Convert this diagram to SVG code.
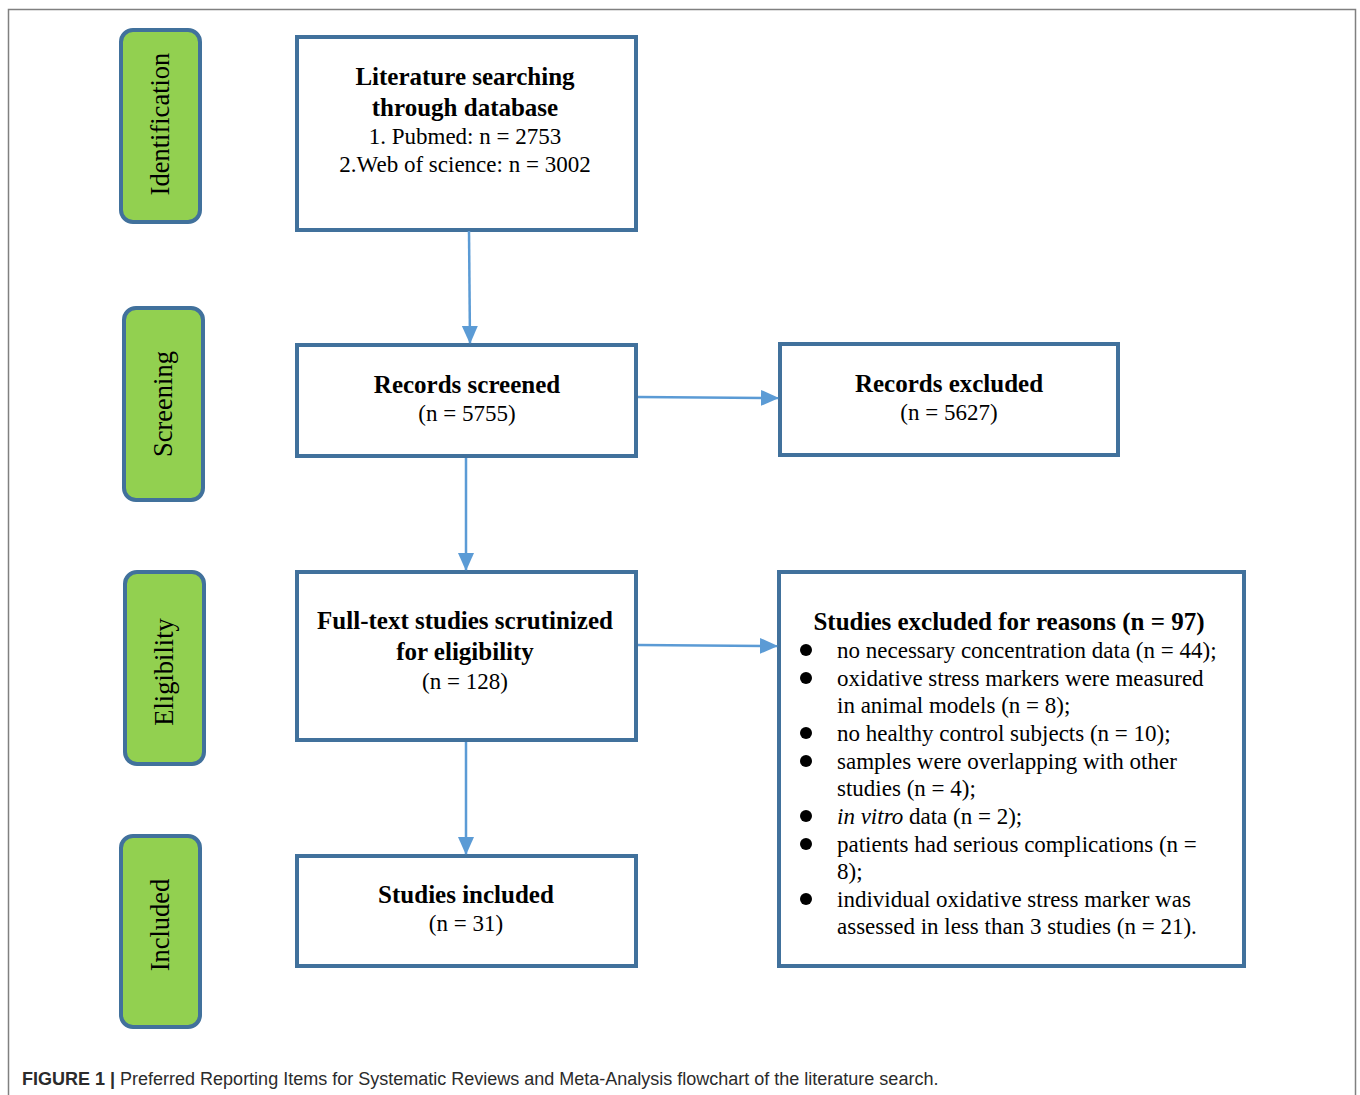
<svg xmlns="http://www.w3.org/2000/svg" width="1360" height="1095" viewBox="0 0 1360 1095">
<style>
.stage{fill:#92D050;stroke:#41719C;stroke-width:4}
.box{fill:#fff;stroke:#41719C;stroke-width:4}
.t{font-family:"Liberation Serif","Times New Roman",serif;fill:#000}
.b{font-size:25px;font-weight:bold}
.s{font-size:23px}
.lab{font-size:26.5px}
.conn{stroke:#5B9BD5;stroke-width:2.5;fill:none}
.cap{font-family:"Liberation Sans",Arial,sans-serif;font-size:18px;fill:#2b2b2b}
</style>
<defs>
<marker id="ah2" viewBox="0 0 18 18" refX="17" refY="9" markerWidth="18" markerHeight="18" orient="auto" markerUnits="userSpaceOnUse">
<path d="M0,1 L18,9 L0,17 Z" fill="#5B9BD5"/>
</marker>
</defs>
<rect x="0" y="0" width="1360" height="1095" fill="#fff"/>
<path d="M8.5,1095 V9.5 H1355.5 V1095" fill="none" stroke="#808080" stroke-width="1.5"/>

<g id="stage-identification">
<rect class="stage" x="121" y="30" width="79" height="192" rx="12"/>
<text class="t lab" transform="translate(169,124) rotate(-90)" text-anchor="middle">Identification</text>
</g>
<g id="stage-screening">
<rect class="stage" x="124" y="308" width="79" height="192" rx="12"/>
<text class="t lab" transform="translate(172,404) rotate(-90)" text-anchor="middle">Screening</text>
</g>
<g id="stage-eligibility">
<rect class="stage" x="125" y="572" width="79" height="192" rx="12"/>
<text class="t lab" transform="translate(173,672) rotate(-90)" text-anchor="middle">Eligibility</text>
</g>
<g id="stage-included">
<rect class="stage" x="121" y="836" width="79" height="191" rx="12"/>
<text class="t lab" transform="translate(169,925) rotate(-90)" text-anchor="middle">Included</text>
</g>

<g id="node-search">
<rect class="box" x="297" y="37" width="339" height="193"/>
<text class="t b" x="465" y="85" text-anchor="middle">Literature searching</text>
<text class="t b" x="465" y="116" text-anchor="middle">through database</text>
<text class="t s" x="465" y="144" text-anchor="middle">1. Pubmed: n = 2753</text>
<text class="t s" x="465" y="172" text-anchor="middle">2.Web of science: n = 3002</text>
</g>
<g id="node-screened">
<rect class="box" x="297" y="345" width="339" height="111"/>
<text class="t b" x="467" y="393" text-anchor="middle">Records screened</text>
<text class="t s" x="467" y="421" text-anchor="middle">(n = 5755)</text>
</g>
<g id="node-excluded">
<rect class="box" x="780" y="344" width="338" height="111"/>
<text class="t b" x="949" y="392" text-anchor="middle">Records excluded</text>
<text class="t s" x="949" y="420" text-anchor="middle">(n = 5627)</text>
</g>
<g id="node-fulltext">
<rect class="box" x="297" y="572" width="339" height="168"/>
<text class="t b" x="465" y="629" text-anchor="middle">Full-text studies scrutinized</text>
<text class="t b" x="465" y="660" text-anchor="middle">for eligibility</text>
<text class="t s" x="465" y="689" text-anchor="middle">(n = 128)</text>
</g>
<g id="node-reasons">
<rect class="box" x="779" y="572" width="465" height="394"/>
<text class="t b" x="1009" y="630" text-anchor="middle">Studies excluded for reasons (n = 97)</text>
<g fill="#000">
<circle cx="806" cy="650" r="6"/>
<circle cx="806" cy="678" r="6"/>
<circle cx="806" cy="733" r="6"/>
<circle cx="806" cy="761" r="6"/>
<circle cx="806" cy="816" r="6"/>
<circle cx="806" cy="844" r="6"/>
<circle cx="806" cy="899" r="6"/>
</g>
<text class="t s" x="837" y="658">no necessary concentration data (n = 44);</text>
<text class="t s" x="837" y="686">oxidative stress markers were measured</text>
<text class="t s" x="837" y="713">in animal models (n = 8);</text>
<text class="t s" x="837" y="741">no healthy control subjects (n = 10);</text>
<text class="t s" x="837" y="769">samples were overlapping with other</text>
<text class="t s" x="837" y="796">studies (n = 4);</text>
<text class="t s" x="837" y="824"><tspan font-style="italic">in vitro</tspan> data (n = 2);</text>
<text class="t s" x="837" y="852">patients had serious complications (n =</text>
<text class="t s" x="837" y="879">8);</text>
<text class="t s" x="837" y="907">individual oxidative stress marker was</text>
<text class="t s" x="837" y="934">assessed in less than 3 studies (n = 21).</text>
</g>
<g id="node-included">
<rect class="box" x="297" y="856" width="339" height="110"/>
<text class="t b" x="466" y="903" text-anchor="middle">Studies included</text>
<text class="t s" x="466" y="931" text-anchor="middle">(n = 31)</text>
</g>

<g id="connectors">
<line class="conn" x1="469" y1="231" x2="470" y2="343" marker-end="url(#ah2)"/>
<line class="conn" x1="466" y1="458" x2="466" y2="570" marker-end="url(#ah2)"/>
<line class="conn" x1="466" y1="742" x2="466" y2="854" marker-end="url(#ah2)"/>
<line class="conn" x1="638" y1="397" x2="778" y2="398" marker-end="url(#ah2)"/>
<line class="conn" x1="638" y1="645" x2="777" y2="646" marker-end="url(#ah2)"/>
</g>

<text class="cap" x="22" y="1085"><tspan font-weight="bold">FIGURE 1 |</tspan> Preferred Reporting Items for Systematic Reviews and Meta-Analysis flowchart of the literature search.</text>
</svg>
